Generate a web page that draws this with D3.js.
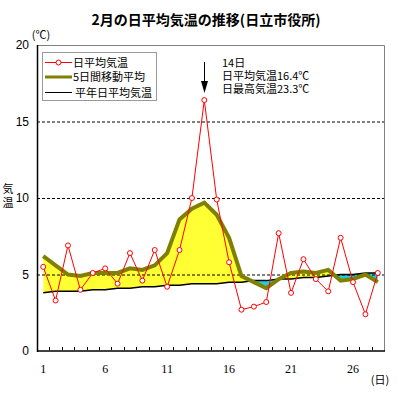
<!DOCTYPE html>
<html>
<head>
<meta charset="utf-8">
<script src="https://cdn.jsdelivr.net/npm/d3@7"></script>
<style>
  body { margin: 0; background: #fff; }
  text { font-family: "Noto Sans CJK JP", sans-serif; }
</style>
</head>
<body>
<svg width="399" height="399"></svg>
<script>
// data
var days = d3.range(1, 29);
var dailyAvg = [5.5, 3.3, 6.9, 4.0, 5.1, 5.4, 4.4, 6.4, 4.6, 6.6, 4.2, 6.6, 10.0, 16.4,
	9.9, 5.8, 2.7, 2.9, 3.2, 7.7, 3.8, 6.0, 4.7, 3.9, 7.4, 4.5, 2.4, 5.1];
var movingAvg = [6.2, 5.6, 5.0, 4.9, 5.1, 5.1, 5.1, 5.4, 5.3, 5.6, 6.4, 8.6, 9.3, 9.7,
	8.9, 7.4, 4.9, 4.5, 4.1, 4.7, 5.1, 5.2, 5.1, 5.3, 4.6, 4.7, 5.0, 4.5];
var normalAvg = [3.8, 3.9, 3.9, 3.9, 4.0, 4.0, 4.1, 4.1, 4.2, 4.2, 4.3, 4.3, 4.4, 4.4,
	4.4, 4.5, 4.5, 4.6, 4.6, 4.7, 4.7, 4.8, 4.8, 4.9, 5.0, 5.0, 5.1, 5.1];
var yTicks = [0, 5, 10, 15, 20];
var xLabels = [1, 6, 11, 16, 21, 26];
var legendNames = ["日平均気温", "5日間移動平均", "平年日平均気温"];
var noteLines = ["14日", "日平均気温16.4℃", "日最高気温23.3℃"];
var noteDay = 14;

var svg = d3.select("svg");

var x = d3.scaleBand().domain(days).range([37, 384]);
var y = d3.scaleLinear().domain([0, 20]).range([351, 45]);
var cx = function (d) { return x(d) + x.bandwidth() / 2; };

var rows = days.map(function (d, i) {
	return { day: d, avg: dailyAvg[i], ma: movingAvg[i], nor: normalAvg[i] };
});

// title
svg.append("text")
	.attr("x", 206).attr("y", 25)
	.attr("text-anchor", "middle")
	.style("font-size", "14px").style("font-weight", "bold")
	.text("2月の日平均気温の推移(日立市役所)");

// clip regions above / below normal line
var defs = svg.append("defs");
defs.append("clipPath").attr("id", "above").append("path")
	.attr("d", d3.area().x(function (d) { return cx(d.day); })
		.y0(function (d) { return y(d.nor); }).y1(0)(rows));
defs.append("clipPath").attr("id", "below").append("path")
	.attr("d", d3.area().x(function (d) { return cx(d.day); })
		.y0(function (d) { return y(d.nor); }).y1(399)(rows));

var band = d3.area()
	.x(function (d) { return cx(d.day); })
	.y0(function (d) { return y(d.nor); })
	.y1(function (d) { return y(d.ma); });

svg.append("path").datum(rows).attr("d", band)
	.attr("fill", "#ffff33").attr("clip-path", "url(#above)");
svg.append("path").datum(rows).attr("d", band)
	.attr("fill", "#22ccdd").attr("clip-path", "url(#below)");

// dashed grid
svg.append("g").selectAll("line")
	.data([5, 10, 15]).enter().append("line")
	.attr("x1", 37).attr("x2", 384)
	.attr("y1", function (d) { return y(d) + 0.5; })
	.attr("y2", function (d) { return y(d) + 0.5; })
	.attr("stroke", "black").attr("stroke-dasharray", "3,2");

// frame
svg.append("path")
	.attr("d", "M37," + (y(20) + 0.5) + "H384.5V351")
	.attr("fill", "none").attr("stroke", "#808080");
svg.append("line").attr("x1", 37.5).attr("x2", 37.5).attr("y1", 45).attr("y2", 352)
	.attr("stroke", "black").attr("stroke-width", 1.5);
svg.append("line").attr("x1", 37).attr("x2", 385).attr("y1", 351).attr("y2", 351)
	.attr("stroke", "black").attr("stroke-width", 1.5);

// x ticks between categories
svg.append("g").selectAll("line")
	.data(days.slice(1)).enter().append("line")
	.attr("x1", function (d) { return Math.round(x(d)) + 0.5; })
	.attr("x2", function (d) { return Math.round(x(d)) + 0.5; })
	.attr("y1", 350).attr("y2", 347)
	.attr("stroke", "black");

svg.append("g").selectAll("text")
	.data(xLabels).enter().append("text")
	.attr("x", cx).attr("y", 373)
	.attr("text-anchor", "middle")
	.style("font-family", "'Liberation Serif', serif").style("font-size", "12px")
	.text(function (d) { return d; });
svg.append("text").attr("x", 380).attr("y", 384).attr("text-anchor", "middle")
	.style("font-size", "11px").text("(日)");

// y labels
svg.append("g").selectAll("text")
	.data(yTicks).enter().append("text")
	.attr("x", 29).attr("y", function (d) { return y(d) + 4; })
	.attr("text-anchor", "end")
	.style("font-family", "'Liberation Sans', sans-serif").style("font-size", "12px")
	.text(function (d) { return d; });
svg.append("text").attr("x", 41).attr("y", 39).attr("text-anchor", "middle")
	.style("font-size", "11px").text("(℃)");
var yt = svg.append("text").attr("text-anchor", "middle").style("font-size", "11px");
yt.append("tspan").attr("x", 8).attr("y", 193).text("気");
yt.append("tspan").attr("x", 8).attr("y", 207).text("温");

// normal line
svg.append("path").datum(rows)
	.attr("d", d3.line().x(function (d) { return cx(d.day); }).y(function (d) { return y(d.nor); }))
	.attr("fill", "none").attr("stroke", "black").attr("stroke-width", 1.5);

// moving average
svg.append("path").datum(rows)
	.attr("d", d3.line().x(function (d) { return cx(d.day); }).y(function (d) { return y(d.ma); }))
	.attr("fill", "none").attr("stroke", "#808000").attr("stroke-width", 4);

// daily average
svg.append("path").datum(rows)
	.attr("d", d3.line().x(function (d) { return cx(d.day); }).y(function (d) { return y(d.avg); }))
	.attr("fill", "none").attr("stroke", "red").attr("stroke-width", 1);
svg.append("g").selectAll("circle")
	.data(rows).enter().append("circle")
	.attr("cx", function (d) { return cx(d.day); })
	.attr("cy", function (d) { return y(d.avg); })
	.attr("r", 2.5)
	.attr("fill", "white").attr("stroke", "red");

// annotation
var ax = Math.round(cx(noteDay)) + 0.5;
svg.append("line").attr("x1", ax).attr("x2", ax).attr("y1", 62).attr("y2", 84)
	.attr("stroke", "black");
svg.append("path")
	.attr("d", "M" + (ax - 3.5) + ",81L" + (ax + 3.5) + ",81L" + ax + ",93Z")
	.attr("fill", "black");
svg.append("text")
	.style("font-size", "11px")
	.selectAll("tspan")
	.data(noteLines).enter().append("tspan")
	.attr("x", 222)
	.attr("y", function (d, i) { return 67 + i * 13; })
	.text(function (d) { return d; });

// legend
var lg = svg.append("g");
lg.append("rect").attr("x", 42.5).attr("y", 52.5).attr("width", 114).attr("height", 48)
	.attr("fill", "white").attr("stroke", "#999");
var rowY = [62.5, 77, 92.5];
lg.append("line").attr("x1", 45).attr("x2", 72).attr("y1", rowY[0]).attr("y2", rowY[0])
	.attr("stroke", "red");
lg.append("circle").attr("cx", 58.5).attr("cy", rowY[0]).attr("r", 2.5)
	.attr("fill", "white").attr("stroke", "red");
lg.append("line").attr("x1", 45).attr("x2", 72).attr("y1", rowY[1]).attr("y2", rowY[1])
	.attr("stroke", "#808000").attr("stroke-width", 3);
lg.append("line").attr("x1", 45).attr("x2", 72).attr("y1", rowY[2]).attr("y2", rowY[2])
	.attr("stroke", "black");
lg.append("text")
	.style("font-size", "11px")
	.selectAll("tspan")
	.data(legendNames).enter().append("tspan")
	.attr("x", function (d, i) { return i == 2 ? 75 : 73; })
	.attr("y", function (d, i) { return rowY[i] + 4; })
	.text(function (d) { return d; });
</script>
</body>
</html>
